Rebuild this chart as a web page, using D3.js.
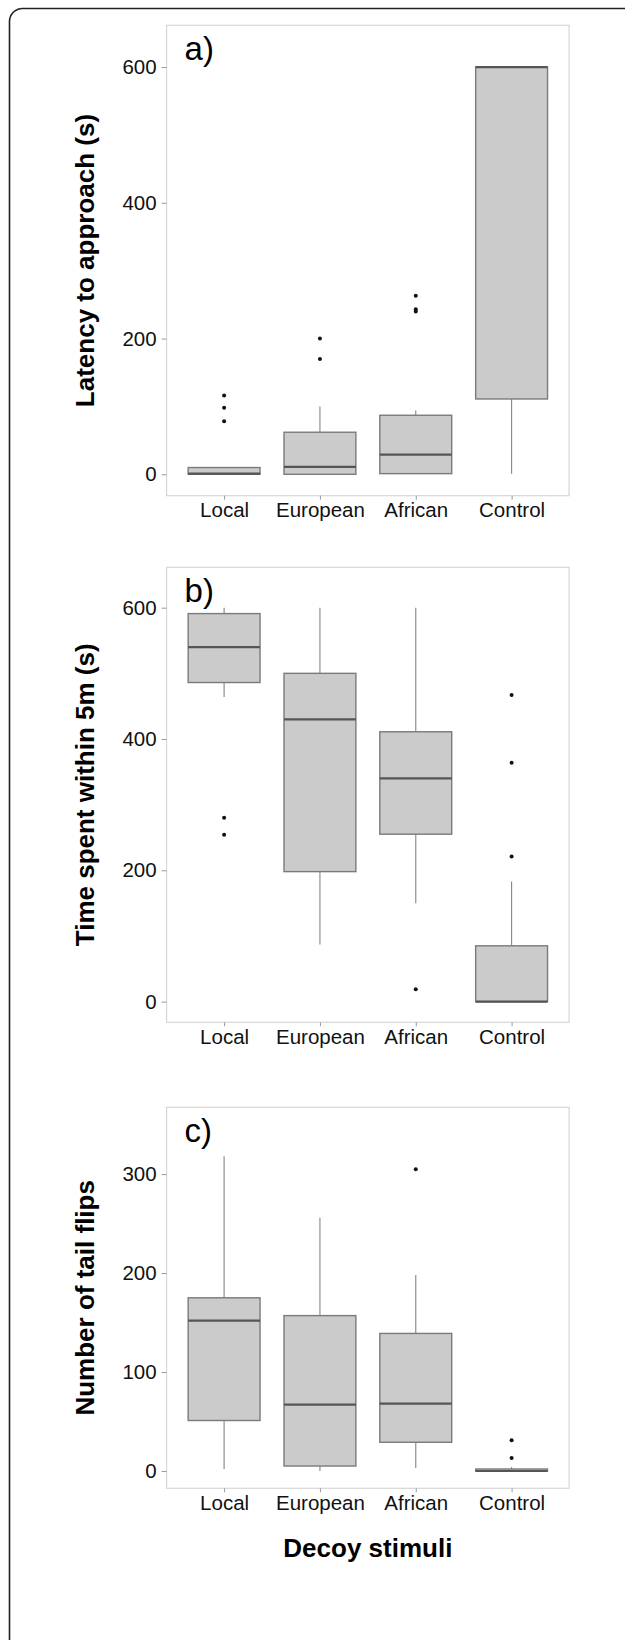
<!DOCTYPE html>
<html>
<head>
<meta charset="utf-8">
<script src="https://cdn.jsdelivr.net/npm/d3@7"></script>
<style>
  body { margin: 0; background: #fff; }
  svg { display: block; font-family: "Liberation Sans", Arial, sans-serif; }
  .tick text { fill: #111; font-size: 20.5px; }
  .tick line { stroke: #999; }
  .domain { display: none; }
</style>
</head>
<body>
<svg id="fig" width="625" height="1640"></svg>
<script>
// categories on the x axis
var categories = ["Local", "European", "African", "Control"];

// box stats per category: [whisker low, q1, median, q3, whisker high]
var latencyBoxes = [[0, 0, 1, 10, 10], [0, 0, 11, 62, 100], [0, 1, 29, 87, 94], [1, 111, 600, 600, 600]];
var latencyOutliers = [[116, 98, 78], [200, 170], [263, 243, 240], []];
var latencyTicks = [0, 200, 400, 600];

var timeBoxes = [[464, 486, 540, 591, 600], [87, 198, 430, 500, 600], [150, 255, 340, 411, 600], [0, 0, 0, 85, 183]];
var timeOutliers = [[280, 254], [], [19], [467, 364, 221]];
var timeTicks = [0, 200, 400, 600];

var flipBoxes = [[2, 51, 152, 175, 318], [0, 5, 67, 157, 256], [3, 29, 68, 139, 198], [0, 0, 0, 2, 4]];
var flipOutliers = [[], [], [305], [31, 13]];
var flipTicks = [0, 100, 200, 300];

var panels = [
    { tag: "a)", title: "Latency to approach (s)", boxes: latencyBoxes, outliers: latencyOutliers,
      ticks: latencyTicks, domain: [-31.5, 661.5], top: 25.3, bottom: 495.7 },
    { tag: "b)", title: "Time spent within 5m (s)", boxes: timeBoxes, outliers: timeOutliers,
      ticks: timeTicks, domain: [-31.5, 661.5], top: 567.3, bottom: 1022.3 },
    { tag: "c)", title: "Number of tail flips", boxes: flipBoxes, outliers: flipOutliers,
      ticks: flipTicks, domain: [-17.5, 367.5], top: 1107.3, bottom: 1488.3 }
];

var left = 166.6, right = 569.1;
var svg = d3.select("#fig");

// outer rounded border, runs off the right and bottom edges
svg.append("rect")
    .attr("x", 9.5).attr("y", 8.5)
    .attr("width", 660).attr("height", 1680)
    .attr("rx", 13)
    .attr("fill", "none")
    .attr("stroke", "#222")
    .attr("stroke-width", 1.6);

var x = d3.scalePoint().domain(categories).range([left, right]).padding(0.6);
var boxW = x.step() * 0.75;

panels.forEach(function (p) {
    var y = d3.scaleLinear().domain(p.domain).range([p.bottom, p.top]);
    var g = svg.append("g");

    // panel frame
    g.append("rect")
        .attr("x", left).attr("y", p.top)
        .attr("width", right - left).attr("height", p.bottom - p.top)
        .attr("fill", "none")
        .attr("stroke", "#d6d6d6")
        .attr("stroke-width", 1.2);

    // axes
    g.append("g")
        .attr("transform", "translate(" + left + ",0)")
        .call(d3.axisLeft(y).tickValues(p.ticks).tickSize(5).tickPadding(5));

    g.append("g")
        .attr("transform", "translate(0," + p.bottom + ")")
        .call(d3.axisBottom(x).tickSize(4).tickPadding(3.2));

    // one group per category
    var cat = g.selectAll("g.cat")
        .data(p.boxes)
        .enter()
        .append("g")
        .attr("class", "cat");

    // whiskers
    cat.append("line")
        .attr("x1", function (d, i) { return x(categories[i]); })
        .attr("x2", function (d, i) { return x(categories[i]); })
        .attr("y1", function (d) { return y(d[3]); })
        .attr("y2", function (d) { return y(d[4]); })
        .attr("stroke", "#858585").attr("stroke-width", 1.1);
    cat.append("line")
        .attr("x1", function (d, i) { return x(categories[i]); })
        .attr("x2", function (d, i) { return x(categories[i]); })
        .attr("y1", function (d) { return y(d[1]); })
        .attr("y2", function (d) { return y(d[0]); })
        .attr("stroke", "#858585").attr("stroke-width", 1.1);

    // box
    cat.append("rect")
        .attr("x", function (d, i) { return x(categories[i]) - boxW / 2; })
        .attr("y", function (d) { return y(d[3]); })
        .attr("width", boxW)
        .attr("height", function (d) { return Math.max(0.5, y(d[1]) - y(d[3])); })
        .attr("fill", "#cbcbcb")
        .attr("stroke", "#7a7a7a")
        .attr("stroke-width", 1.4);

    // median
    cat.append("line")
        .attr("x1", function (d, i) { return x(categories[i]) - boxW / 2; })
        .attr("x2", function (d, i) { return x(categories[i]) + boxW / 2; })
        .attr("y1", function (d) { return y(d[2]); })
        .attr("y2", function (d) { return y(d[2]); })
        .attr("stroke", "#555").attr("stroke-width", 2.2);

    // outliers
    p.outliers.forEach(function (vals, i) {
        g.selectAll(null)
            .data(vals)
            .enter()
            .append("circle")
            .attr("cx", x(categories[i]))
            .attr("cy", function (v) { return y(v); })
            .attr("r", 2)
            .attr("fill", "#111");
    });

    // panel tag
    g.append("text")
        .attr("x", left + 18)
        .attr("y", p.top + 35)
        .attr("font-size", 33)
        .attr("fill", "#000")
        .text(p.tag);

    // y axis title
    g.append("text")
        .attr("transform", "translate(93.5," + ((p.top + p.bottom) / 2) + ") rotate(-90)")
        .attr("text-anchor", "middle")
        .attr("font-size", 26)
        .attr("font-weight", "bold")
        .attr("fill", "#000")
        .text(p.title);
});

// shared x axis title
svg.append("text")
    .attr("x", (left + right) / 2)
    .attr("y", 1556.5)
    .attr("text-anchor", "middle")
    .attr("font-size", 26)
    .attr("font-weight", "bold")
    .attr("fill", "#000")
    .text("Decoy stimuli");
</script>
</body>
</html>
